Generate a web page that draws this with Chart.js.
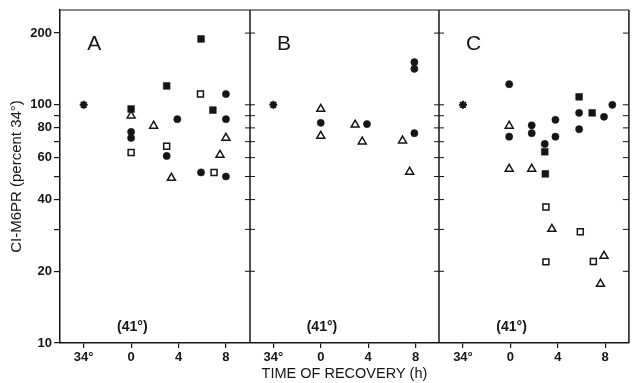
<!DOCTYPE html>
<html>
<head>
<meta charset="utf-8">
<script src="https://cdn.jsdelivr.net/npm/chart.js@4.4.1/dist/chart.umd.min.js"></script>
<style>
  html, body { margin: 0; padding: 0; background: #fff; }
  #wrap { width: 635px; height: 383px; }
</style>
</head>
<body>
<div id="wrap"><canvas id="myChart"></canvas></div>
<script>
// x is hours of recovery; -4 is where the 34° control sits in each panel
const panelNames = ['A', 'B', 'C'];
const panelOffset = [0, 16, 32];
const xTickHours = [-4, 0, 4, 8];
const yTickValues = [10, 20, 30, 40, 50, 60, 70, 80, 90, 100, 200];
const yTickLabels = [10, 20, 40, 60, 80, 100, 200];

// Panel A
const aControl = [[-4, 100]];
const aFilledCircle = [[0, 77], [0, 72.6], [3, 61], [3.9, 87], [5.9, 52], [8, 111], [8, 87], [8, 50]];
const aFilledSquare = [[0, 96], [3, 120], [5.9, 189], [6.9, 95]];
const aOpenSquare = [[0, 63], [3, 67], [5.85, 111], [7, 52]];
const aOpenTriangle = [[0, 90], [1.9, 81.6], [3.4, 49.3], [7.5, 61.6], [8, 72.6]];

// Panel B
const bControl = [[-4, 100]];
const bFilledCircle = [[0, 84], [3.9, 83], [7.9, 151], [7.9, 141.6], [7.9, 76]];
const bFilledSquare = [];
const bOpenSquare = [];
const bOpenTriangle = [[0, 96], [0, 74], [2.9, 82.4], [3.5, 70], [6.9, 70.7], [7.5, 52.3]];

// Panel C
const cControl = [[-4, 100]];
const cFilledCircle = [[-0.1, 122], [-0.1, 73.5], [1.8, 82], [1.8, 76], [2.9, 68.5], [3.8, 86.5], [3.8, 73.5],
  [5.8, 92.5], [5.8, 79], [8.6, 100], [7.9, 89]];
const cFilledSquare = [[2.9, 63.5], [2.95, 51.3], [5.8, 108], [6.9, 92.5]];
const cOpenSquare = [[3, 37.2], [3, 21.9], [5.9, 29.3], [7, 22]];
const cOpenTriangle = [[-0.1, 81.6], [-0.1, 53.8], [1.8, 53.8], [3.5, 30.1], [7.9, 23.2], [7.6, 17.7]];

function shift(points, p) {
  return points.map(([h, v]) => ({ x: h + panelOffset[p], y: v }));
}
function joinPanels(a, b, c) {
  return [...shift(a, 0), ...shift(b, 1), ...shift(c, 2)];
}

const ink = '#151515';
const tickFont = { family: '"Liberation Sans Narrow", "Liberation Sans", Arial, sans-serif', size: 13, weight: 'bold' };

const data = {
  datasets: [
    {
      label: '34°',
      data: joinPanels(aControl, bControl, cControl),
      pointStyle: 'star', pointRadius: 4, borderWidth: 2,
      borderColor: ink, backgroundColor: ink
    },
    {
      label: 'filled circle',
      data: joinPanels(aFilledCircle, bFilledCircle, cFilledCircle),
      pointStyle: 'circle', pointRadius: 3.6, borderWidth: 0.5,
      borderColor: ink, backgroundColor: ink
    },
    {
      label: 'filled square',
      data: joinPanels(aFilledSquare, bFilledSquare, cFilledSquare),
      pointStyle: 'rect', pointRadius: 4.8, borderWidth: 0.5,
      borderColor: ink, backgroundColor: ink
    },
    {
      label: 'open square',
      data: joinPanels(aOpenSquare, bOpenSquare, cOpenSquare),
      pointStyle: 'rect', pointRadius: 4.2, borderWidth: 1.5,
      borderColor: ink, backgroundColor: '#fff'
    },
    {
      label: 'open triangle',
      data: joinPanels(aOpenTriangle, bOpenTriangle, cOpenTriangle),
      pointStyle: 'triangle', pointRadius: 4.6, borderWidth: 1.5,
      borderColor: ink, backgroundColor: '#fff'
    }
  ]
};

// frame, panel dividers with crossing ticks, panel letters, (41°)
const panelDecor = {
  id: 'panelDecor',
  afterDraw(chart) {
    const { ctx, chartArea: { top, bottom, left, right }, scales: { x, y } } = chart;
    const line = (x1, y1, x2, y2) => { ctx.beginPath(); ctx.moveTo(x1, y1); ctx.lineTo(x2, y2); ctx.stroke(); };
    ctx.save();
    ctx.strokeStyle = ink;
    ctx.lineWidth = 1.2;
    line(left, top, right, top);
    ctx.lineWidth = 1.5;
    line(right, top, right, bottom);
    [10, 26].forEach(d => {
      const px = Math.round(x.getPixelForValue(d));
      ctx.lineWidth = 1.5;
      line(px, top, px, bottom);
      ctx.lineWidth = 1;
      yTickValues.forEach(v => {
        if (v === 10) return;
        const py = y.getPixelForValue(v);
        line(px - 5, py, px + 5, py);
      });
    });
    yTickValues.forEach(v => {
      if (v === 10) return;
      const py = y.getPixelForValue(v);
      line(right - 6, py, right, py);
    });
    ctx.fillStyle = ink;
    ctx.textAlign = 'center';
    ctx.textBaseline = 'middle';
    panelNames.forEach((name, i) => {
      ctx.font = '21px "Liberation Sans", Arial, sans-serif';
      ctx.fillText(name, x.getPixelForValue(panelOffset[i] - 3.1), top + 34);
      ctx.font = 'bold 14px "Liberation Sans", Arial, sans-serif';
      ctx.fillText('(41°)', x.getPixelForValue(panelOffset[i] + 0.1), bottom - 16);
    });
    ctx.restore();
  }
};

const config = {
  type: 'scatter',
  data: data,
  options: {
    responsive: true,
    maintainAspectRatio: false,
    animation: false,
    layout: { padding: { top: 10, right: 1, left: 0, bottom: 0 } },
    plugins: { legend: { display: false }, tooltip: { enabled: false } },
    scales: {
      x: {
        type: 'linear',
        min: -6,
        max: 42,
        afterBuildTicks: s => {
          s.ticks = [];
          panelOffset.forEach(o => xTickHours.forEach(h => s.ticks.push({ value: h + o })));
        },
        afterFit: s => { s.height = 40; },
        ticks: {
          autoSkip: false,
          maxRotation: 0,
          padding: 2,
          color: ink,
          font: tickFont,
          callback: v => {
            const h = ((v + 6) % 16 + 16) % 16 - 6;
            return h === -4 ? '34°' : String(h);
          }
        },
        grid: { drawOnChartArea: false, tickLength: 5, color: ink, lineWidth: 1.2 },
        border: { color: ink, width: 1.5 },
        title: {
          display: true,
          text: 'TIME OF RECOVERY (h)',
          color: ink,
          font: { family: '"Liberation Sans", Arial, sans-serif', size: 14.5 },
          padding: { top: 0, bottom: 0 }
        }
      },
      y: {
        type: 'logarithmic',
        min: 10,
        max: 250,
        afterBuildTicks: s => { s.ticks = yTickValues.map(v => ({ value: v })); },
        afterFit: s => { s.width = 60; },
        ticks: {
          autoSkip: false,
          padding: 2,
          color: ink,
          font: tickFont,
          callback: v => (yTickLabels.includes(v) ? String(v) : '')
        },
        grid: { drawOnChartArea: false, tickLength: 6, color: ink, lineWidth: 1.2 },
        border: { color: ink, width: 1.5 },
        title: {
          display: true,
          text: 'CI-M6PR (percent 34°)',
          color: ink,
          font: { family: '"Liberation Sans", Arial, sans-serif', size: 15 },
          padding: { top: 8, bottom: 0 }
        }
      }
    }
  },
  plugins: [panelDecor]
};

let myChart = document.getElementById('myChart').getContext('2d');
let recoveryChart = new Chart(myChart, config);
</script>
</body>
</html>
